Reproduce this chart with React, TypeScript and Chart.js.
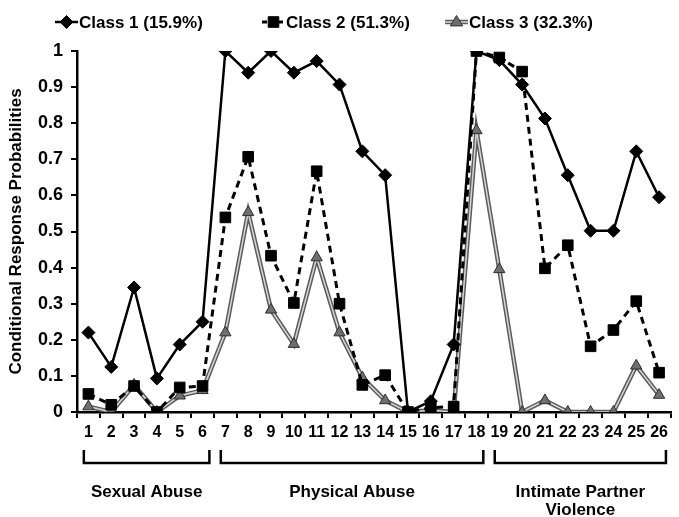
import React, { useEffect, useRef } from 'react';
import { Chart, registerables } from 'chart.js';

Chart.register(...registerables);

const categories = ['1','2','3','4','5','6','7','8','9','10','11','12','13','14','15','16','17','18','19','20','21','22','23','24','25','26'];
const class1 = [0.22, 0.125, 0.345, 0.093, 0.187, 0.25, 1.0, 0.94, 1.0, 0.94, 0.972, 0.907, 0.722, 0.656, 0.0, 0.03, 0.187, 1.0, 0.975, 0.907, 0.813, 0.656, 0.502, 0.502, 0.722, 0.595];
const class2 = [0.05, 0.02, 0.072, 0.0, 0.068, 0.072, 0.539, 0.707, 0.433, 0.302, 0.667, 0.3, 0.075, 0.102, 0.0, 0.012, 0.015, 1.0, 0.982, 0.943, 0.398, 0.462, 0.182, 0.227, 0.307, 0.109];
const class3 = [0.015, 0.0, 0.075, 0.0, 0.045, 0.06, 0.22, 0.553, 0.283, 0.188, 0.428, 0.22, 0.095, 0.032, 0.0, 0.005, 0.0, 0.78, 0.395, 0.0, 0.032, 0.0, 0.0, 0.0, 0.128, 0.047];
const seriesNames = ['Class 1 (15.9%)', 'Class 2 (51.3%)', 'Class 3 (32.3%)'];
const yTickLabels = ['0','0.1','0.2','0.3','0.4','0.5','0.6','0.7','0.8','0.9','1'];
const yTitle = 'Conditional Response Probabilities';
const groupNames = [['Sexual Abuse'], ['Physical Abuse'], ['Intimate Partner', 'Violence']];
const groupStarts = ['1', '7', '19'];
const groupEnds = ['6', '18', '26'];

const FONT = "'Liberation Sans', Arial, Helvetica, sans-serif";

function drawMarker(ctx: CanvasRenderingContext2D, style: string, x: number, y: number, r: number, fill: string, stroke: string) {
  ctx.save();
  ctx.fillStyle = fill;
  ctx.strokeStyle = stroke;
  ctx.lineWidth = 1;
  ctx.setLineDash([]);
  ctx.beginPath();
  if (style === 'rectRot') {
    ctx.moveTo(x, y - r); ctx.lineTo(x + r, y); ctx.lineTo(x, y + r); ctx.lineTo(x - r, y); ctx.closePath();
  } else if (style === 'rect') {
    const s = r * Math.SQRT1_2;
    ctx.rect(x - s, y - s, 2 * s, 2 * s);
  } else {
    ctx.moveTo(x, y - r);
    ctx.lineTo(x + r * 0.95, y + r * 0.6);
    ctx.lineTo(x - r * 0.95, y + r * 0.6);
    ctx.closePath();
  }
  ctx.fill();
  ctx.stroke();
  ctx.restore();
}

const extrasPlugin = {
  id: 'extras',
  afterDraw(chart: any) {
    const ctx: CanvasRenderingContext2D = chart.ctx;
    const xs = chart.scales.x;
    ctx.save();
    // Legend
    const legendY = 22;
    const sampleStarts = [55, 262, 445];
    const sampleW = 23;
    ctx.font = `bold 17px ${FONT}`;
    ctx.textBaseline = 'middle';
    ctx.textAlign = 'left';
    seriesNames.forEach((name, i) => {
      const x0 = sampleStarts[i];
      const x1 = x0 + sampleW;
      const xm = (x0 + x1) / 2;
      if (i === 2) {
        ctx.strokeStyle = '#5c5c5c'; ctx.lineWidth = 4.5; ctx.setLineDash([]);
        ctx.beginPath(); ctx.moveTo(x0, legendY); ctx.lineTo(x1, legendY); ctx.stroke();
        ctx.strokeStyle = '#d6d6d6'; ctx.lineWidth = 1.5;
        ctx.beginPath(); ctx.moveTo(x0, legendY); ctx.lineTo(x1, legendY); ctx.stroke();
        drawMarker(ctx, 'triangle', xm, legendY, 6.5, '#6e6e6e', '#2e2e2e');
      } else {
        ctx.strokeStyle = '#000'; ctx.lineWidth = i === 0 ? 2.5 : 3;
        ctx.setLineDash(i === 0 ? [] : [5, 3]);
        ctx.beginPath(); ctx.moveTo(x0, legendY); ctx.lineTo(x1, legendY); ctx.stroke();
        ctx.setLineDash([]);
        drawMarker(ctx, i === 0 ? 'rectRot' : 'rect', xm, legendY, i === 0 ? 6.5 : 7.5, '#000', '#000');
      }
      ctx.fillStyle = '#000';
      ctx.fillText(name, x1 + 1, legendY + 1);
    });
    // Group brackets
    const w = xs.getPixelForValue(1) - xs.getPixelForValue(0);
    const bTop = 450;
    const bBot = 463;
    ctx.strokeStyle = '#000';
    ctx.lineWidth = 2.5;
    ctx.setLineDash([]);
    ctx.textAlign = 'center';
    groupNames.forEach((lines, g) => {
      const left = xs.getPixelForValue(categories.indexOf(groupStarts[g])) - 0.2 * w;
      const right = xs.getPixelForValue(categories.indexOf(groupEnds[g])) + 0.3 * w;
      ctx.beginPath();
      ctx.moveTo(left, bTop); ctx.lineTo(left, bBot); ctx.lineTo(right, bBot); ctx.lineTo(right, bTop);
      ctx.stroke();
      const cx = (left + right) / 2;
      lines.forEach((t, k) => {
        ctx.fillText(t, cx, 492 + k * 18);
      });
    });
    ctx.restore();
  },
};

export default function App() {
  const ref = useRef<HTMLCanvasElement>(null);
  useEffect(() => {
    document.body.style.margin = '0';
    const chart = new Chart(ref.current as HTMLCanvasElement, {
      type: 'line',
      data: {
        labels: categories,
        datasets: [
          {
            label: seriesNames[0], data: class1, borderColor: '#000', backgroundColor: '#000', borderWidth: 2.5,
            pointStyle: 'rectRot', pointRadius: 6.5, pointBackgroundColor: '#000', pointBorderColor: '#000', pointBorderWidth: 1,
            tension: 0, order: 0,
          },
          {
            label: seriesNames[1], data: class2, borderColor: '#000', backgroundColor: '#000', borderWidth: 3, borderDash: [7, 5],
            pointStyle: 'rect', pointRadius: 7.5, pointBackgroundColor: '#000', pointBorderColor: '#000', pointBorderWidth: 1,
            tension: 0, order: 1,
          },
          {
            label: seriesNames[2], data: class3, borderColor: '#d6d6d6', backgroundColor: '#6e6e6e', borderWidth: 1.5,
            pointStyle: 'triangle', pointRadius: 6.5, pointBackgroundColor: '#6e6e6e', pointBorderColor: '#2e2e2e', pointBorderWidth: 1,
            tension: 0, order: 2,
          },
          {
            label: seriesNames[2] + ' outline', data: class3, borderColor: '#5c5c5c', borderWidth: 4.5,
            pointRadius: 0, tension: 0, order: 3,
          },
        ],
      },
      options: {
        responsive: false,
        animation: false,
        devicePixelRatio: 1,
        layout: { padding: { top: 51, right: 0, bottom: 0, left: 0 } },
        plugins: { legend: { display: false }, tooltip: { enabled: false } },
        scales: {
          x: {
            type: 'category',
            offset: true,
            grid: { offset: true, drawOnChartArea: false, drawTicks: true, tickLength: 6, color: '#000', lineWidth: 2 },
            border: { color: '#000', width: 2.5 },
            ticks: { color: '#000', font: { family: FONT, size: 16, weight: 'bold' }, padding: 5, maxRotation: 0, autoSkip: false },
            afterFit: (s: any) => { s.height = 105; },
          },
          y: {
            min: 0, max: 1,
            grid: { drawOnChartArea: false, drawTicks: true, tickLength: 6, color: '#000', lineWidth: 2 },
            border: { color: '#000', width: 2.5 },
            ticks: {
              stepSize: 0.1, color: '#000', padding: 8,
              font: { family: FONT, size: 18, weight: 'bold' },
              callback: (_v: any, i: number) => yTickLabels[i],
            },
            title: { display: true, text: yTitle, color: '#000', font: { family: FONT, size: 17, weight: 'bold' }, padding: { top: 6, bottom: 0 } },
            afterFit: (s: any) => { s.width = 77; },
          },
        },
      } as any,
      plugins: [extrasPlugin],
    });
    return () => chart.destroy();
  }, []);
  return (
    <div style={{ width: 679, height: 517, position: 'relative', background: '#fff' }}>
      <canvas ref={ref} width={679} height={517} style={{ display: 'block' }} />
    </div>
  );
}
